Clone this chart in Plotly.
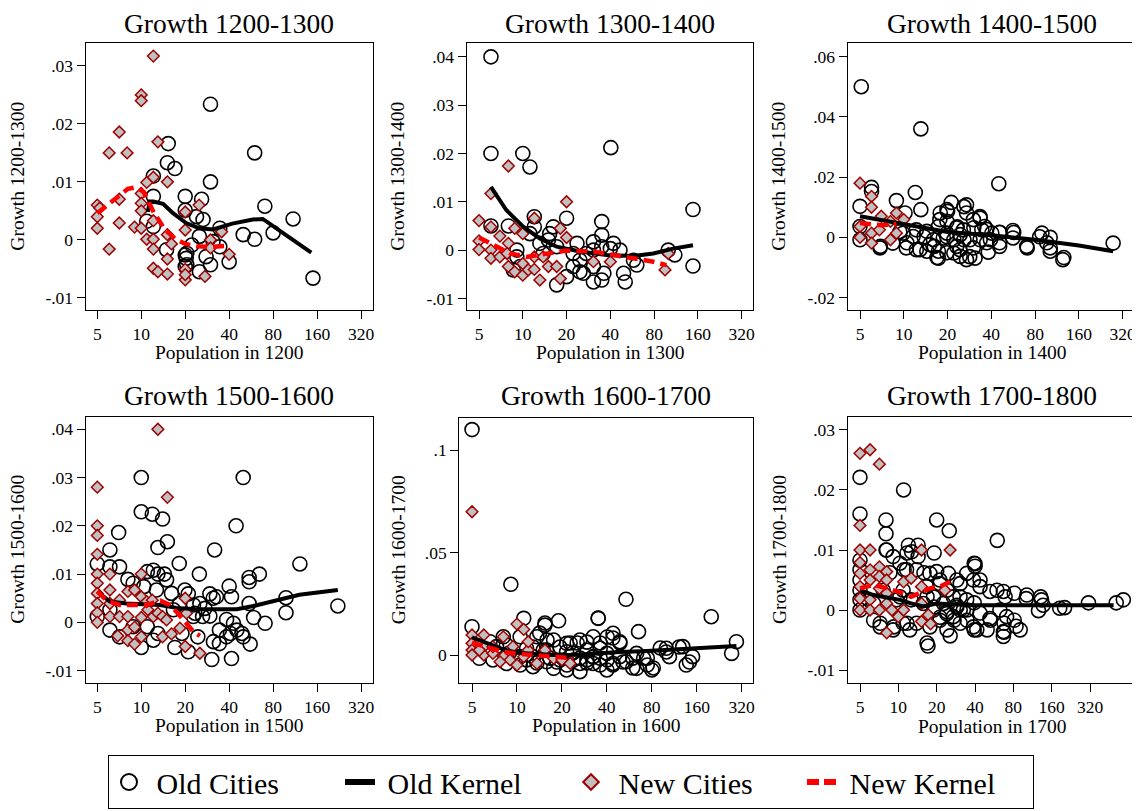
import plotly.graph_objects as go

FONT = "Liberation Serif, Times New Roman, serif"
# the page body has an 8px margin; the figure is sized to fill the rest of the 1140x811 window
OFF = 8
W, H = 1140 - OFF, 811 - OFF


def px2x(px):
    return (px - OFF) / W


def px2y(py):
    return 1 - (py - OFF) / H


# ---------------- Growth 1200-1300 ----------------
old_pop_1200 = [29.8, 59.8, 15.3, 15.1, 17.0, 12.1, 29.8, 12.1, 20, 25.9, 70.2, 109.6, 20, 23.9, 26.5, 10.9, 12.1,
                34.5, 49.9, 59.8, 80, 25, 31, 22.2, 14.9, 20, 20.3, 27.8, 29.8, 20, 20.5, 25, 40, 34.5, 150, 20.5]
old_growth_1200 = [0.0234, 0.015, 0.0166, 0.0133, 0.0123, 0.011, 0.010, 0.0075, 0.0075, 0.007, 0.0058, 0.0036,
                   0.0051, 0.004, 0.0035, 0.0032, 0.0023, 0.002, 0.0009, 0.0001, 0.0012, 0.0006, -0.0003, -0.0009,
                   -0.0017, -0.0026, -0.0032, -0.0029, -0.0043, -0.0046, -0.0043, -0.0055, -0.0038, -0.0012,
                   -0.0066, -0.0023]
new_pop_1200 = [12.1, 10, 10, 7.07, 13.0, 6.03, 8.0, 10.9, 12.1, 15.1, 5, 5.2, 5, 5, 7.07, 7.07, 6.03, 9.0, 10, 10,
                10, 10, 10.9, 12.1, 12.1, 12.1, 12.1, 13.0, 15.1, 15.1, 15.1, 16.1, 20, 20, 20, 20, 20, 24.9, 27.3,
                29.8, 29.8, 35.5, 40]
new_growth_1200 = [0.0317, 0.025, 0.024, 0.0186, 0.0169, 0.015, 0.015, 0.0099, 0.0108, 0.010, 0.006, 0.0055, 0.004,
                   0.002, 0.007, 0.0029, -0.0016, 0.0022, 0.008, 0.0063, 0.005, 0.002, 0.0001, 0.0033, 0.0001,
                   -0.0016, -0.0049, -0.0055, -0.0059, -0.0033, 0.0009, -0.0007, 0.0048, 0.0017, -0.0051, -0.0069,
                   -0.006, 0.006, -0.0063, 0.0, -0.0014, 0.0014, -0.0025]
oldk_pop_1200 = [11.1, 11.4, 12.1, 14.1, 16.5, 20.3, 25, 31, 42, 58, 68, 80, 105, 146]
oldk_growth_1200 = [0.0048, 0.0066, 0.0066, 0.0062, 0.0046, 0.0029, 0.002, 0.0018, 0.0028, 0.0035, 0.0036, 0.0023,
                    0.0003, -0.0022]
newk_pop_1200 = [5, 6, 7.1, 8.1, 9.3, 10.4, 12.2, 14.6, 17.2, 20, 24, 30, 40]
newk_growth_1200 = [0.0046, 0.0062, 0.0078, 0.0088, 0.0091, 0.0082, 0.0047, 0.0017, 0.0001, -0.0007, -0.0011,
                    -0.0012, -0.001]

# ---------------- Growth 1300-1400 ----------------
old_pop_1300 = [6.04, 6.04, 10, 11.2, 40.3, 148, 148, 20, 34.9, 7.96, 6.04, 12.0, 12.0, 11.2, 16.2, 15.3, 15.0, 23.6,
                34.9, 30.6, 30.6, 34.9, 42, 40, 46.6, 22.2, 24.7, 22.2, 20, 24.7, 26.1, 30.6, 30.6, 34.9, 36.1, 49.3,
                50.6, 60.8, 57.7, 100, 111, 17.1, 9.1, 9.6, 8.6, 13.1, 13.8, 17.1, 27.3, 9.1]
old_growth_1300 = [0.04, 0.02, 0.02, 0.0172, 0.0212, 0.0084, -0.0033, 0.0066, 0.0059, 0.005, 0.005, 0.0069, 0.0048,
                   0.0034, 0.0048, 0.0034, 0.0021, 0.0014, 0.0031, 0.0017, 0.0, 0.0007, 0.0014, 0.0003, 0.0,
                   -0.0007, -0.0021, -0.0034, -0.0055, -0.0045, -0.0048, -0.0034, -0.0066, -0.0062, -0.0048,
                   -0.0048, -0.0066, -0.0031, -0.0021, 0.0, -0.001, -0.0072, 0.0, -0.0034, -0.0041, 0.0014,
                   -0.0007, 0.0007, -0.0007, -0.0014]
new_pop_1300 = [7.96, 20, 6.04, 5, 6.04, 5, 5, 6.04, 6.04, 6.96, 7.96, 8.8, 10, 12.0, 18.1, 20, 6.96, 7.96, 8.8, 10,
                10, 10.9, 12.0, 13.1, 12.0, 13.8, 15.0, 17.1, 18.1, 30.6, 40, 95, 100, 7.8]
new_growth_1300 = [0.0174, 0.01, 0.0117, 0.0061, 0.0048, 0.0019, 0.0001, 0.0, -0.0017, 0.0029, 0.0014, 0.0045,
                   0.0034, 0.0066, 0.0045, 0.0026, -0.0014, -0.0034, -0.0045, -0.0028, -0.0052, -0.0041, -0.004,
                   -0.0062, -0.0014, -0.0014, -0.0034, -0.0034, -0.0059, -0.0024, -0.0024, -0.0041, -0.0007,
                   -0.0007]
oldk_pop_1300 = [6.04, 7.7, 10.1, 13.1, 17.1, 24.7, 37.7, 57.7, 79, 108, 148]
oldk_growth_1300 = [0.0131, 0.0083, 0.0048, 0.0024, 0.0007, -0.0003, -0.001, -0.0012, -0.0007, 0.0003, 0.001]
newk_pop_1300 = [5, 6.3, 8.2, 10.6, 14.6, 20, 30.6, 42, 57.7, 79, 97]
newk_growth_1300 = [0.0026, 0.001, -0.0007, -0.0014, -0.0008, -0.0001, -0.0003, -0.001, -0.0019, -0.0024, -0.0031]

# ---------------- Growth 1400-1500 ----------------
old_pop_1400 = [5.1, 13.1, 45, 6.0, 6.0, 5, 8.9, 12.0, 13.1, 10.2, 21.2, 20, 17.8, 27.0, 27.0, 33.5, 30.1, 36.0,
                19.8, 23.1, 25.7, 17.3, 14.4, 12.2, 11.6, 10.4, 12.2, 15.1, 17.3, 17.3, 14.4, 22.1, 22.1, 23.1, 24.4,
                27.0, 30.9, 30.1, 33.5, 40.3, 45.6, 39.4, 45.6, 38.1, 56.3, 56.3, 70.6, 89.1, 101.6, 101.6, 101.6,
                124, 275, 6.86, 5, 5, 8.4, 9.9, 16.0, 18.7, 24.4, 28.5, 19.8, 34.4,
                19.8, 25.9, 33.4, 17.7, 23.3, 30.3, 37.2, 45.6, 57.0, 70.0, 86.0, 96.2, 126, 10.5, 12.9, 16.2,
                19.8, 24.3, 28.4, 16.9, 13.8, 19.8, 25.9, 37.2, 45.6, 9.4, 6.9]
old_growth_1400 = [0.05, 0.036, 0.0178, 0.0166, 0.0152, 0.0103, 0.0122, 0.0149, 0.0092, 0.0081, 0.0116, 0.0086,
                   0.0081, 0.0108, 0.0081, 0.0064, 0.0059, 0.0036, 0.0053, 0.0031, 0.0025, 0.0036, 0.002, 0.0025,
                   0.0003, -0.0035, -0.0041, -0.0024, -0.0046, -0.0069, -0.0046, -0.0008, -0.0052, -0.003, -0.0063,
                   -0.0074, -0.0069, -0.0035, -0.0008, 0.0014, 0.0017, -0.0008, -0.003, -0.0049, 0.0023, -0.0002,
                   -0.0035, 0.0014, 0.0, -0.0035, -0.0046, -0.0074, -0.0019, -0.0035, -0.0008, 0.0036, -0.0019,
                   0.0014, -0.0008, -0.0002, 0.0009, -0.0008, 0.0014, 0.0025,
                   0.0092, 0.0102, 0.0069, 0.0059, 0.0035, 0.0032, 0.0026, 0.0016, 0.0016, -0.003, 0.0002, -0.0018,
                   -0.0067, -0.0018, -0.0041, -0.003, -0.0051, -0.0041, -0.0064, -0.0067, 0.0002, 0.0002, -0.0008,
                   -0.0018, -0.0018, 0.0019, -0.003]
new_pop_1400 = [5, 6.0, 6.0, 7.0, 5, 5, 6.0, 6.0, 8.1, 8.9, 8.9, 10, 8.1, 6.8]
new_growth_1400 = [0.018, 0.0136, 0.01, 0.007, 0.0036, 0.0, 0.0014, -0.0019, -0.0008, 0.0081, 0.0014, 0.0059,
                   0.0053, 0.0025]
oldk_pop_1400 = [5, 10, 20, 40, 80, 160, 275]
oldk_growth_1400 = [0.007, 0.0045, 0.0018, 0.0007, -0.0008, -0.0027, -0.0046]
newk_pop_1400 = [5, 6, 7, 8, 8.9]
newk_growth_1400 = [0.0048, 0.0042, 0.004, 0.0042, 0.0045]

# ---------------- Growth 1500-1600 ----------------
old_pop_1500 = [10, 49.9, 10, 11.9, 14.0, 44.6, 13.0, 15.1, 7.0, 31.8, 6.1, 18.2, 122, 25.0, 64.4, 54.8, 54.8, 40,
                41.5, 98, 98, 222, 5, 6.1, 7.1, 11.0, 12.1, 13.0, 14.4, 14.9, 8.1, 8.8, 10.4, 12.7, 16.1, 19.9, 21,
                29.5, 31.1, 32.7, 25.2, 27.3, 29.5, 22.8, 18.3, 16.6, 54.8, 58.8, 70.5, 38.4, 42.8, 45.2, 48.9, 49.9,
                40.8, 34.3, 38.4, 31.2, 34.3, 55.7, 30.4, 41.5, 24.4, 21.0, 17.0, 19.0, 10, 12.1, 13.0, 6.1, 7.1, 8.8,
                5, 6.1, 11.0, 23.3, 26.3, 22.7]
old_growth_1500 = [0.03, 0.03, 0.0229, 0.0224, 0.0214, 0.02, 0.0155, 0.0167, 0.0186, 0.015, 0.015, 0.0122, 0.0121,
                   0.01, 0.01, 0.0093, 0.0084, 0.0075, 0.0053, 0.0051, 0.002, 0.0034, 0.0121, 0.0115, 0.0115,
                   0.0105, 0.0108, 0.01, 0.01, 0.0088, 0.0089, 0.0081, 0.0074, 0.0067, 0.006, 0.0067, 0.0059, 0.0059,
                   0.005, 0.0053, 0.0039, 0.0029, 0.0013, 0.0036, 0.0039, 0.0026, 0.0039, 0.001, -0.0002, 0.0006,
                   -0.0002, -0.0016, -0.0023, -0.003, -0.0023, -0.0016, -0.003, -0.004, -0.0044, -0.0045, -0.0077,
                   -0.0075, -0.003, -0.0061, -0.0052, -0.0023, -0.0052, -0.0037, -0.0023, -0.0016, -0.003, -0.0009,
                   0.0012, 0.0026, -0.0009, 0.0019, 0.0012, 0.0012]
new_pop_1500 = [13.0, 5, 15.1, 5, 5, 5, 5, 5, 5, 5, 5, 5, 6.1, 6.1, 6.1, 6.1, 7.1, 7.1, 6.9, 8.1, 8.1, 8.1, 8.1, 9.0,
                9.0, 9.0, 10, 10, 10, 10, 11.1, 12.1, 13.0, 14.0, 14.9, 14.0, 16.1, 18.4, 20, 20, 20.4, 25.2, 10.9,
                11.9]
new_growth_1500 = [0.04, 0.028, 0.0259, 0.02, 0.018, 0.0141, 0.01, 0.0081, 0.006, 0.0039, 0.002, 0.0, 0.01, 0.0067,
                   0.0039, 0.0012, 0.0046, 0.0012, -0.0028, 0.0064, 0.0012, -0.0016, -0.0038, 0.0067, -0.001,
                   -0.0045, 0.01, 0.0053, 0.001, -0.003, 0.0026, 0.0012, 0.0019, 0.0012, 0.0005, -0.003, -0.0024,
                   -0.0012, 0.005, -0.005, 0.0019, -0.0064, 0.0043, 0.0046]
oldk_pop_1500 = [5, 6.1, 7.9, 10.3, 13.4, 17.4, 23.8, 32.8, 45, 58.7, 84, 121, 222]
oldk_growth_1500 = [0.0064, 0.0043, 0.0039, 0.0038, 0.0036, 0.003, 0.0027, 0.0027, 0.0027, 0.0034, 0.0046, 0.0057,
                    0.0067]
newk_pop_1500 = [5, 5.8, 7.1, 8.8, 10.9, 13.5, 15.7, 17.8, 20, 22.7, 25.2]
newk_growth_1500 = [0.0064, 0.0045, 0.0036, 0.0036, 0.0036, 0.0045, 0.0036, 0.0019, 0.0001, -0.0019, -0.0028]

# ---------------- Growth 1600-1700 ----------------
old_pop_1600 = [5, 9.1, 53.7, 200, 35.0, 11.1, 19.0, 15.4, 65.2, 295, 274, 5, 44, 48.8, 32.4, 26.4, 21.5, 17.6, 13.6,
                10.5, 8.1, 6.6, 8.5, 11.6, 15.8, 21.5, 29.4, 36.1, 100, 129, 150, 105, 63.3, 70.5, 63.3, 80, 136, 44,
                40, 32.4, 26.4, 21.5, 17.6, 15.8, 12.8, 10.5, 8.5, 6.9, 5.6, 23.9, 29.4, 36.1, 48.8, 54, 26.4, 32.4,
                40, 19.4, 12.8, 10.5, 6.0, 7.3,
                15.4, 35, 14.2, 15.9, 19.4, 22.7, 25.3, 29.4, 36, 40.2, 43.9, 49.0, 23.7, 26.4, 29.4, 32.3, 36, 40.2,
                43.9, 51.3, 59.6, 21.6, 18.5, 16.6, 15.0, 12.8, 11.6, 13.6, 10.0, 8.9, 74.6, 91.2, 100, 74.6, 81.8,
                122, 143, 59.6]
old_growth_1600 = [0.110, 0.0345, 0.0272, 0.0187, 0.0179, 0.0179, 0.0167, 0.0146, 0.0114, 0.0065, 0.0008, 0.0138,
                   0.0106, 0.0065, 0.0089, 0.0073, 0.0057, 0.0073, 0.0089, 0.0089, 0.0089, 0.0065, 0.0049, 0.0033,
                   0.0024, 0.0016, 0.0024, 0.0033, 0.0033, 0.0041, -0.0008, -0.0008, 0.0008, -0.0016, -0.0065,
                   -0.0073, -0.0049, -0.0041, -0.0073, -0.0041, -0.0081, -0.0073, -0.0065, -0.0033, -0.0057,
                   -0.0049, -0.0041, -0.0024, -0.0016, -0.0024, -0.0024, -0.0016, -0.0008, -0.0033, -0.0041,
                   -0.0008, 0.0008, -0.0024, -0.0008, -0.0008, 0.0024, 0.0041,
                   0.0156, 0.018, 0.0107, 0.0073, 0.0039, 0.0059, 0.0059, 0.0063, 0.0059, 0.0088, 0.0083, 0.0059,
                   0.001, -0.0015, -0.0039, -0.001, -0.0049, -0.0024, -0.0049, -0.0034, -0.0015, -0.0049, -0.0034,
                   -0.0015, 0.0024, 0.0039, -0.0024, -0.0039, -0.001, 0.001, -0.0015, 0.0034, 0.0015, -0.0049,
                   -0.0063, 0.0039, -0.0034, -0.0063]
new_pop_1600 = [5, 10, 11.1, 5, 6.0, 8.1, 5, 5, 5, 6.0, 6.0, 6.9, 6.9, 8.1, 9.0, 10, 11.1, 11.9, 11.9, 13.6, 15.4,
                17.6, 20, 22.7, 5.6, 7.7, 9.4]
new_growth_1600 = [0.0699, 0.0151, 0.0125, 0.0098, 0.0098, 0.0089, 0.0057, 0.0024, 0.0, 0.0041, 0.0, 0.0008, 0.0041,
                   -0.0008, -0.0024, -0.0049, -0.0008, 0.0024, 0.0065, -0.0041, 0.0024, -0.0016, -0.0024, -0.0041,
                   0.0024, -0.0033, 0.0041]
oldk_pop_1600 = [5, 6.3, 8.1, 10, 12.9, 17.6, 23.9, 34, 48.8, 74, 111, 169, 295]
oldk_growth_1600 = [0.0086, 0.0057, 0.0028, 0.0011, 0.0005, 0.0, 0.0, 0.0008, 0.0015, 0.002, 0.0028, 0.0037, 0.0044]
newk_pop_1600 = [5, 6.3, 8.1, 10.5, 13.6, 16.7, 21.5, 23.9]
newk_growth_1600 = [0.006, 0.0041, 0.0016, 0.0005, 0.0, -0.0005, -0.0011, -0.0016]

# ---------------- Growth 1700-1800 ----------------
old_pop_1700 = [5, 5, 11.0, 8.0, 8.0, 20, 25.1, 59.8, 40, 40, 8.0, 12.0, 14.3, 12.7, 9.1, 10.3, 11.6, 13.9, 17.7, 20,
                24.7, 34.4, 38.9, 30.6, 43.8, 52.4, 66.8, 68.9, 101, 133, 137, 185, 202, 311, 514, 584, 126, 62.7,
                52.4, 70.8, 66.8, 66.8, 84, 38.9, 41.3, 30.6, 25.5, 17.1, 12.3, 9.1, 7.2, 6.4, 10.9, 13.9, 21.2, 27.0,
                30.6, 34.4, 27.0, 22.6, 18.9, 15.7, 12.6, 10.3, 18.9, 24.0, 28.7, 32.4, 16.7, 10.9, 7.6, 6.4, 5, 5, 5,
                5, 5, 5, 21.2, 14.3,
                8.1, 11.7, 19.1, 39.4, 28.8, 43.8, 59.5, 81.3, 102, 131, 24.1, 30.5, 39.4, 34.6, 28.8, 24.1, 21.2,
                27.4, 34.6, 43.8, 52.8, 67.6, 81.3, 90.5, 67.6, 49.8, 39.4, 24.1, 17.7, 11.7, 9.2, 7.2, 16.8, 9.7,
                19.1, 16.8, 21.2, 15.9, 11.1, 8.6]
old_growth_1700 = [0.0221, 0.016, 0.02, 0.015, 0.0127, 0.015, 0.0132, 0.0116, 0.0073, 0.0077, 0.01, 0.0108, 0.0108,
                   0.0097, 0.0089, 0.0078, 0.0067, 0.0067, 0.0061, 0.0064, 0.0061, 0.0061, 0.005, 0.0044, 0.0039,
                   0.0031, 0.0031, 0.0022, 0.0019, 0.0017, 0.0008, 0.0003, 0.0004, 0.0012, 0.0012, 0.0017, -0.0001,
                   0.0, -0.0014, -0.0011, -0.0036, -0.0044, -0.0027, -0.0028, -0.0033, -0.0022, -0.0043, -0.006,
                   -0.0033, -0.0033, -0.0028, -0.0017, -0.0022, -0.0022, -0.0017, -0.0011, 0.0, 0.0017, 0.0022,
                   0.0011, 0.0, 0.0011, 0.0017, 0.0022, 0.0022, -0.0006, 0.0008, 0.0, 0.0039, 0.0033, 0.0033, 0.0011,
                   0.0, 0.0017, 0.0033, 0.005, 0.0067, 0.0083, 0.0044, 0.0089,
                   0.01, 0.0095, 0.0095, 0.0078, 0.005, 0.005, 0.0033, 0.0028, 0.0025, 0.0022, 0.0033, 0.0022,
                   0.0012, 0.0, 0.0005, -0.0003, -0.0012, -0.0017, -0.0017, -0.0005, -0.0017, -0.0022, -0.0017,
                   -0.0033, -0.0037, -0.0033, -0.0033, -0.0033, -0.0028, -0.0022, -0.0028, -0.0022, -0.0055, 0.0017,
                   0.0005, 0.0022, 0.005, 0.0062, 0.0067, 0.0062]
new_pop_1700 = [5, 6.0, 7.1, 5, 5, 6.0, 15.2, 25.5, 5, 5, 5, 5, 5, 6.0, 6.0, 6.0, 6.0, 7.1, 7.1, 7.1, 7.1, 8.1, 8.1,
                8.1, 8.1, 8.1, 8.9, 10, 11.0, 11.0, 12.6, 15.2, 15.2, 15.2, 17.2, 17.9, 23.2]
new_growth_1700 = [0.0261, 0.0267, 0.0243, 0.0141, 0.01, 0.01, 0.01, 0.01, 0.0079, 0.0061, 0.0039, 0.0019, 0.0,
                   0.0067, 0.005, 0.0017, 0.0, 0.0072, 0.0056, 0.0036, 0.0, 0.0064, 0.005, 0.0028, 0.0011, -0.0038,
                   0.0, -0.0011, 0.0047, 0.0, 0.0053, 0.0039, 0.0011, -0.0019, -0.0008, -0.0023, 0.0033]
oldk_pop_1700 = [5, 6.4, 8.1, 10.3, 12.6, 15.7, 20, 25.5, 40, 80, 160, 490]
oldk_growth_1700 = [0.0033, 0.0025, 0.0021, 0.0017, 0.0011, 0.0006, 0.0011, 0.001, 0.0008, 0.0008, 0.0008, 0.0008]
newk_pop_1700 = [5, 6.4, 8.1, 11, 12.6, 14.8, 17.7, 21.2, 25.5]
newk_growth_1700 = [0.0036, 0.0042, 0.0036, 0.0028, 0.0022, 0.0028, 0.0036, 0.0039, 0.0047]

x_ticks = [5, 10, 20, 40, 80, 160, 320]

# panel layout (reference-pixel frames: left, right, top, bottom) and axis ranges
panels = [
    dict(year="1200", nxt="1300", old=(old_pop_1200, old_growth_1200), new=(new_pop_1200, new_growth_1200),
         oldk=(oldk_pop_1200, oldk_growth_1200), newk=(newk_pop_1200, newk_growth_1200),
         frame=(85.7, 372.7, 43.3, 310), xr=(0.6195, 2.585), yr=(-0.0121, 0.0339),
         yt=[-0.01, 0, 0.01, 0.02, 0.03], ylx=18),
    dict(year="1300", nxt="1400", old=(old_pop_1300, old_growth_1300), new=(new_pop_1300, new_growth_1300),
         oldk=(oldk_pop_1300, oldk_growth_1300), newk=(newk_pop_1300, newk_growth_1300),
         frame=(466.7, 752.7, 43.3, 310), xr=(0.6144, 2.5807), yr=(-0.0124, 0.0428),
         yt=[-0.01, 0, 0.01, 0.02, 0.03, 0.04], ylx=398),
    dict(year="1400", nxt="1500", old=(old_pop_1400, old_growth_1400), new=(new_pop_1400, new_growth_1400),
         oldk=(oldk_pop_1400, oldk_growth_1400), newk=(newk_pop_1400, newk_growth_1400),
         frame=(847.7, 1136, 43.3, 310), xr=(0.6144, 2.5966), yr=(-0.0241, 0.0644),
         yt=[-0.02, 0, 0.02, 0.04, 0.06], ylx=779),
    dict(year="1500", nxt="1600", old=(old_pop_1500, old_growth_1500), new=(new_pop_1500, new_growth_1500),
         oldk=(oldk_pop_1500, oldk_growth_1500), newk=(newk_pop_1500, newk_growth_1500),
         frame=(85.7, 372.7, 416.7, 682.7), xr=(0.6195, 2.585), yr=(-0.0125, 0.0426),
         yt=[-0.01, 0, 0.01, 0.02, 0.03, 0.04], ylx=18),
    dict(year="1600", nxt="1700", old=(old_pop_1600, old_growth_1600), new=(new_pop_1600, new_growth_1600),
         oldk=(oldk_pop_1600, oldk_growth_1600), newk=(newk_pop_1600, newk_growth_1600),
         frame=(459.3, 752.7, 417.7, 682.7), xr=(0.6138, 2.5788), yr=(-0.0135, 0.1158),
         yt=[0, 0.05, 0.1], ylx=398),
    dict(year="1700", nxt="1800", old=(old_pop_1700, old_growth_1700), new=(new_pop_1700, new_growth_1700),
         oldk=(oldk_pop_1700, oldk_growth_1700), newk=(newk_pop_1700, newk_growth_1700),
         frame=(847.7, 1136, 416.7, 683.3), xr=(0.6024, 2.866), yr=(-0.0122, 0.0322),
         yt=[-0.01, 0, 0.01, 0.02, 0.03], ylx=779),
]


def ytxt(v):
    if v == 0:
        return "0"
    return f"{v:g}".replace("0.", ".")


OLD_MARKER = dict(symbol="circle-open", size=14, color="black", line=dict(width=1.6, color="black"))
NEW_MARKER = dict(symbol="diamond", size=9, color="#c0c0c0", line=dict(width=1.5, color="#a00000"))
OLD_LINE = dict(color="black", width=4)
NEW_LINE = dict(color="#ff0000", width=4.5, dash="11px,6px")

fig = go.Figure()
annotations = []
layout = {}
for i, p in enumerate(panels):
    n = "" if i == 0 else str(i + 1)
    xa, ya = "x" + n, "y" + n
    l, r, t, b = p["frame"]
    common = dict(ticks="outside", ticklen=8, tickwidth=1, tickcolor="black", showgrid=False, zeroline=False,
                  showline=True, mirror=True, linecolor="black", linewidth=1.2, ticklabeloverflow="allow",
                  tickfont=dict(family=FONT, size=17.5, color="black"))
    layout["xaxis" + n] = dict(domain=[px2x(l), px2x(r)], anchor=ya, type="log", range=list(p["xr"]),
                               tickvals=x_ticks, ticktext=[str(v) for v in x_ticks], **common)
    layout["yaxis" + n] = dict(domain=[px2y(b), px2y(t)], anchor=xa, range=list(p["yr"]),
                               tickvals=p["yt"], ticktext=[ytxt(v) for v in p["yt"]], **common)

    fig.add_trace(go.Scatter(x=p["old"][0], y=p["old"][1], mode="markers", marker=OLD_MARKER,
                             xaxis=xa, yaxis=ya, showlegend=False, name="Old Cities"))
    fig.add_trace(go.Scatter(x=p["new"][0], y=p["new"][1], mode="markers", marker=NEW_MARKER,
                             xaxis=xa, yaxis=ya, showlegend=False, name="New Cities"))
    fig.add_trace(go.Scatter(x=p["oldk"][0], y=p["oldk"][1], mode="lines", line=OLD_LINE,
                             xaxis=xa, yaxis=ya, showlegend=False, name="Old Kernel"))
    fig.add_trace(go.Scatter(x=p["newk"][0], y=p["newk"][1], mode="lines", line=NEW_LINE,
                             xaxis=xa, yaxis=ya, showlegend=False, name="New Kernel"))

    cx = px2x((l + r) / 2)
    title_y = 24 if t < 100 else 396
    annotations.append(dict(text=f"Growth {p['year']}-{p['nxt']}", x=cx, y=px2y(title_y), xref="paper",
                            yref="paper", showarrow=False, xanchor="center", yanchor="middle",
                            font=dict(family=FONT, size=27.5, color="black")))
    annotations.append(dict(text=f"Population in {p['year']}", x=cx, y=px2y(b + 43), xref="paper",
                            yref="paper", showarrow=False, xanchor="center", yanchor="middle",
                            font=dict(family=FONT, size=19.5, color="black")))
    annotations.append(dict(text=f"Growth {p['year']}-{p['nxt']}", x=px2x(p["ylx"]), y=px2y((t + b) / 2),
                            xref="paper", yref="paper", showarrow=False, textangle=-90, xanchor="center",
                            yanchor="middle", font=dict(family=FONT, size=19.5, color="black")))

# legend-only entries (no data)
NB = "\u00a0"
fig.add_trace(go.Scatter(x=[None], y=[None], mode="markers", name=NB + "Old Cities",
                         marker=dict(symbol="circle-open", size=16, color="black", line=dict(width=2))))
fig.add_trace(go.Scatter(x=[None], y=[None], mode="lines", name=NB + "Old Kernel",
                         line=dict(color="black", width=6)))
fig.add_trace(go.Scatter(x=[None], y=[None], mode="markers", name=NB + "New Cities",
                         marker=dict(symbol="diamond", size=12, color="#c0c0c0",
                                     line=dict(width=2, color="#a00000"))))
fig.add_trace(go.Scatter(x=[None], y=[None], mode="lines", name=NB + "New Kernel",
                         line=dict(color="#ff0000", width=6, dash="12px,5px")))

fig.update_layout(
    width=W, height=H, margin=dict(l=0, r=0, t=0, b=0, autoexpand=False),
    paper_bgcolor="white", plot_bgcolor="white",
    font=dict(family=FONT, color="black"),
    annotations=annotations,
    showlegend=True,
    legend=dict(orientation="h", x=px2x(108), xanchor="left", y=px2y(755), yanchor="top",
                bordercolor="black", borderwidth=1, bgcolor="white",
                font=dict(family=FONT, size=30, color="black"),
                entrywidth=186, entrywidthmode="pixels", itemwidth=30, itemsizing="trace"),
    **layout,
)

fig.write_html("out.html")
